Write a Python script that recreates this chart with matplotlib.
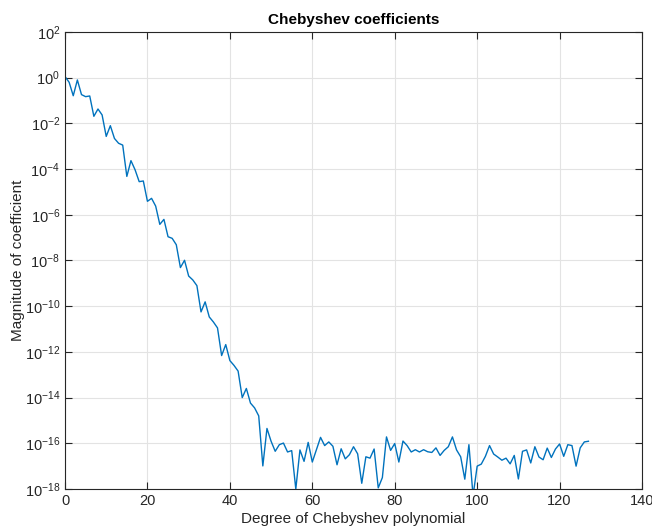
import numpy as np
from matplotlib import pyplot as plt
from matplotlib.ticker import FixedLocator, LogFormatterMathtext, NullLocator

#%% DATA  (log10 of |coefficient|, degree 0..127)

degree = np.arange(128)
log_mag = [
    0.05, -0.2, -0.79, -0.1, -0.74, -0.83, -0.8, -1.69, -1.37, -1.63,
    -2.57, -2.1, -2.66, -2.87, -2.95, -4.32, -3.63, -4.03, -4.55, -4.52,
    -5.41, -5.28, -5.62, -6.42, -6.2, -6.96, -7.03, -7.31, -8.31, -7.99,
    -8.68, -8.85, -9.1, -10.25, -9.81, -10.47, -10.69, -10.95, -12.16, -11.68,
    -12.38, -12.59, -12.84, -14.0, -13.6, -14.24, -14.45, -14.8, -16.99, -15.35,
    -15.91, -16.35, -16.06, -15.99, -16.38, -16.32, -18.0, -16.29, -16.79, -15.96,
    -16.82, -16.28, -15.74, -16.1, -15.94, -16.13, -16.94, -16.24, -16.68, -16.5,
    -16.15, -16.46, -17.75, -16.59, -16.65, -16.25, -17.95, -17.5, -15.72, -16.31,
    -16.01, -16.82, -15.9, -16.1, -16.38, -16.28, -16.38, -16.28, -16.37, -16.4,
    -16.2, -16.53, -16.31, -16.15, -15.72, -16.29, -16.59, -17.57, -16.06, -18.3,
    -17.0, -16.91, -16.57, -16.1, -16.47, -16.6, -16.74, -16.65, -16.9, -16.53,
    -17.56, -16.35, -16.29, -16.86, -16.15, -16.6, -16.72, -16.21, -16.62, -16.25,
    -16.03, -16.57, -16.06, -16.1, -17.0, -16.2, -15.94, -15.91,
]
coef = 10.0 ** np.array(log_mag)

xticks = np.arange(0, 141, 20)
yticks = 10.0 ** np.arange(-18, 3, 2)

#%% PLOT

plt.rcParams['font.family'] = ['Liberation Sans', 'DejaVu Sans']
plt.rcParams['mathtext.fontset'] = 'custom'
plt.rcParams['mathtext.rm'] = 'Liberation Sans'
plt.rcParams['mathtext.it'] = 'Liberation Sans'

axcol = '#262626'
fig = plt.figure(figsize=(6.52, 5.27), dpi=100)
ax = fig.add_axes([0.0997, 0.0721, 0.885, 0.8672])

ax.semilogy(degree, coef, color='#0072BD', lw=1.0)

ax.set_xlim(0, 140)
ax.set_ylim(1e-18, 1e2)
ax.xaxis.set_major_locator(FixedLocator(xticks))
ax.yaxis.set_major_locator(FixedLocator(yticks))
ax.yaxis.set_major_formatter(LogFormatterMathtext())
ax.yaxis.set_minor_locator(NullLocator())

ax.grid(True, color='#e3e3e3', lw=0.8)
ax.set_axisbelow(True)
for s in ax.spines.values():
    s.set_color(axcol)
    s.set_linewidth(0.8)
ax.tick_params(which='both', direction='in', top=True, right=True,
               length=5, width=0.8, color=axcol, labelcolor=axcol,
               labelsize=10.5)

ax.set_title('Chebyshev coefficients', fontsize=11, fontweight='bold', color='black', pad=6)
ax.set_xlabel('Degree of Chebyshev polynomial', fontsize=11, color=axcol, labelpad=3)
ax.set_ylabel('Magnitude of coefficient', fontsize=11, color=axcol, labelpad=0)

fig.savefig('out.png', dpi=100)
